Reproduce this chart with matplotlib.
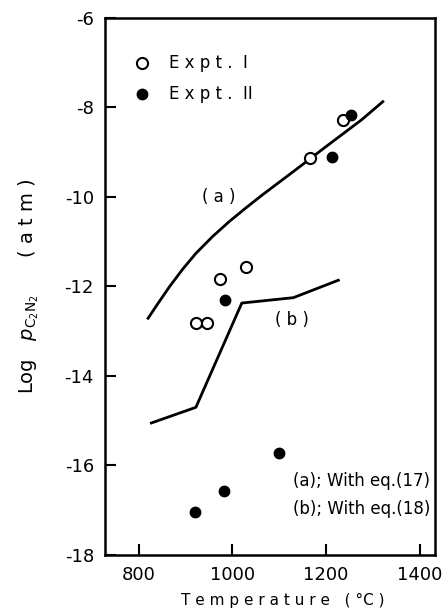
import numpy as np
import matplotlib
matplotlib.use("Agg")
import matplotlib.pyplot as plt

# curve (a): with eq.(17)
curve_a_t = [820, 841, 866, 894, 922, 957, 993, 1028, 1063, 1134, 1204, 1275, 1321]
curve_a_p = [-12.71, -12.38, -12.0, -11.61, -11.26, -10.89, -10.55, -10.25,
             -9.96, -9.40, -8.84, -8.28, -7.87]

# curve (b): with eq.(18)
curve_b_t = [827, 922, 1020, 1130, 1226]
curve_b_p = [-15.05, -14.7, -12.37, -12.25, -11.86]

# experiments
expt1_t = [922, 946, 974, 1028, 1166, 1236]
expt1_p = [-12.82, -12.82, -11.84, -11.57, -9.13, -8.28]
expt2_t = [921, 982, 984, 1100, 1212, 1254]
expt2_p = [-17.04, -16.57, -12.3, -15.72, -9.1, -8.17]

xticks = [800, 1000, 1200, 1400]
yticks = [-6, -8, -10, -12, -14, -16, -18]

plt.rcParams['axes.unicode_minus'] = False
fig = plt.figure(figsize=(4.46, 6.14), dpi=100)
ax = fig.add_axes([0.2354, 0.0961, 0.7396, 0.8746])

ax.plot(curve_a_t, curve_a_p, color='black', lw=2)
ax.plot(curve_b_t, curve_b_p, color='black', lw=2)
ax.plot(expt1_t, expt1_p, 'o', mfc='white', mec='black', mew=1.5, ms=8)
ax.plot(expt2_t, expt2_p, 'o', color='black', ms=7.5)

# legend drawn by hand like the original
ax.plot([808], [-7.0], 'o', mfc='white', mec='black', mew=1.5, ms=8)
ax.plot([808], [-7.7], 'o', color='black', ms=7.5)
ax.text(864, -7.0, "E x p t .  I", fontsize=12, va='center')
ax.text(864, -7.7, "E x p t .  II", fontsize=12, va='center')

ax.text(971, -10.0, "( a )", fontsize=12, va='center', ha='center')
ax.text(1126, -12.75, "( b )", fontsize=12, va='center', ha='center')
ax.text(1422, -16.35, "(a); With eq.(17)", fontsize=12, ha='right', va='center')
ax.text(1422, -16.98, "(b); With eq.(18)", fontsize=12, ha='right', va='center')

ax.set_xlim(728, 1432)
ax.set_ylim(-18, -6)
ax.set_xticks(xticks)
ax.set_yticks(yticks)
ax.tick_params(direction='in', length=8, width=1.5, labelsize=13, pad=8)
for s in ax.spines.values():
    s.set_linewidth(1.8)

ax.set_xlabel("T e m p e r a t u r e   ( °C )", fontsize=11)
ax.xaxis.set_label_coords(0.54, -0.07)
ax.set_ylabel(r"Log   $p_{\mathrm{C_2N_2}}$      ( a t m )", fontsize=14)
ax.yaxis.set_label_coords(-0.195, 0.5)

fig.savefig("out.png", dpi=100)
